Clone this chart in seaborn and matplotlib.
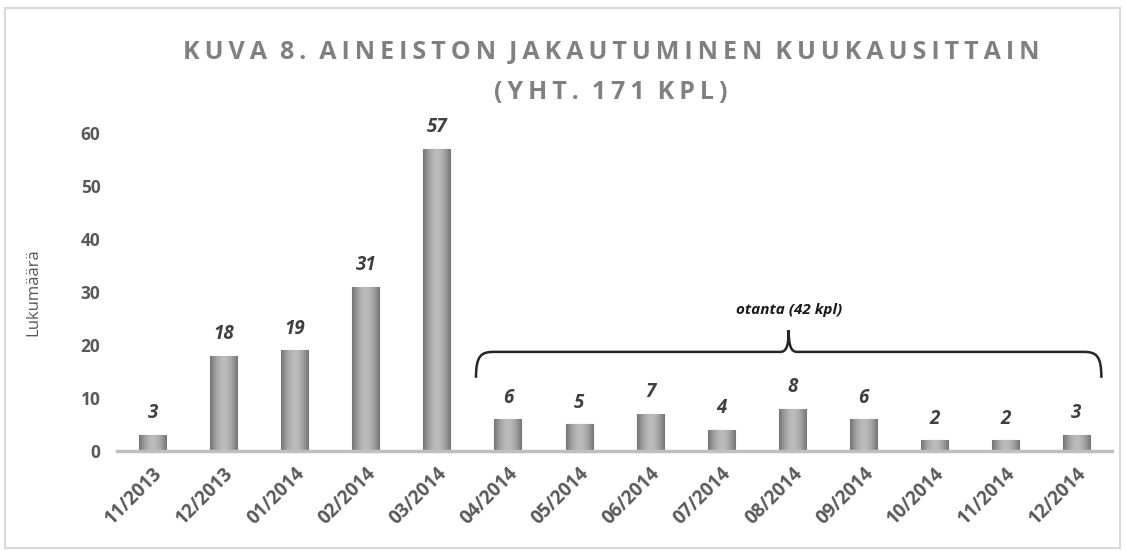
import numpy as np
import pandas as pd
import seaborn as sns
import matplotlib.pyplot as plt
from matplotlib.path import Path
from matplotlib.patches import PathPatch, Rectangle

# Data
months = ['11/2013', '12/2013', '01/2014', '02/2014', '03/2014', '04/2014', '05/2014',
          '06/2014', '07/2014', '08/2014', '09/2014', '10/2014', '11/2014', '12/2014']
counts = [3, 18, 19, 31, 57, 6, 5, 7, 4, 8, 6, 2, 2, 3]
title_lines = ['KUVA 8. AINEISTON JAKAUTUMINEN KUUKAUSITTAIN', '(YHT. 171 KPL)']
sample_label = 'otanta (42 kpl)'

df = pd.DataFrame({'month': months, 'count': counts})

sns.set_theme(style='white')
plt.rcParams['font.family'] = ['Open Sans', 'DejaVu Sans']

fig = plt.figure(figsize=(11.26, 5.51), dpi=100)
ax = fig.add_axes([0.104, 0.1815, 0.8836, 0.5771])

sns.barplot(data=df, x='month', y='count', color='#a6a6a6', width=0.38,
            edgecolor='#8f8f8f', linewidth=0.8, ax=ax)

# horizontal gradient fill on each bar (darker edges, lighter centre)
grad = np.abs(np.linspace(-1, 1, 64)) ** 1.8
grad = np.vstack([grad, grad])
for patch in ax.patches:
    x0, y0 = patch.get_x(), patch.get_y()
    w, h = patch.get_width(), patch.get_height()
    im = ax.imshow(grad, extent=[x0, x0 + w, y0, y0 + h], aspect='auto',
                   cmap='Greys', vmin=-1.6, vmax=2.6, origin='lower', zorder=2)
    im.set_clip_path(patch)
ax.set_xlim(-0.5, len(months) - 0.5)
ax.set_ylim(0, 60)

# value labels
for i, v in enumerate(counts):
    ax.text(i, v + 2.2, str(v), ha='center', va='bottom', fontsize=13.5,
            fontweight='bold', fontstyle='italic', color='#404040', clip_on=False)

# axes styling
sns.despine(ax=ax, left=True)
ax.spines['bottom'].set_color('#bfbfbf')
ax.spines['bottom'].set_linewidth(2.5)
ax.set_yticks([0, 10, 20, 30, 40, 50, 60])
ax.tick_params(axis='both', length=0)
ax.tick_params(axis='y', pad=12)
for lab in ax.get_yticklabels():
    lab.set_fontsize(12.5)
    lab.set_fontweight('bold')
    lab.set_color('#595959')
ax.set_xticks(range(len(months)))
ax.set_xticklabels(months, rotation=45, ha='right', rotation_mode='anchor',
                   fontsize=13.5, fontweight='bold', color='#595959')
ax.tick_params(axis='x', pad=9)
ax.set_xlabel('')
ax.set_ylabel('Lukumäärä', fontsize=12, color='#595959', labelpad=28)

# curly bracket over the sample months
y_tip, y_bar, y_peak = 13.8, 18.7, 22.8
xl, xm, xr = 4.55, 8.95, 13.35
verts = [(xl, y_tip), (xl, 18.0), (xl + 0.07, y_bar), (xl + 0.25, y_bar),
         (xm - 0.12, y_bar),
         (xm - 0.04, y_bar), (xm, 19.6), (xm, y_peak),
         (xm, 19.6), (xm + 0.04, y_bar), (xm + 0.12, y_bar),
         (xr - 0.25, y_bar),
         (xr - 0.07, y_bar), (xr, 18.0), (xr, y_tip)]
codes = [Path.MOVETO, Path.CURVE4, Path.CURVE4, Path.CURVE4,
         Path.LINETO,
         Path.CURVE4, Path.CURVE4, Path.CURVE4,
         Path.CURVE4, Path.CURVE4, Path.CURVE4,
         Path.LINETO,
         Path.CURVE4, Path.CURVE4, Path.CURVE4]
ax.add_patch(PathPatch(Path(verts, codes), fill=False, edgecolor='#262626',
                       linewidth=1.8, clip_on=False))
ax.text(xm, 25.2, sample_label, ha='center', va='bottom', fontsize=11,
        fontweight='bold', fontstyle='italic', color='#1a1a1a')

# title with wide letter spacing
thin = '\u2009'
for k, line in enumerate(title_lines):
    spaced = thin.join(line).replace(thin + ' ' + thin, '  ')
    fig.text(0.5425, 0.905 - k * 0.073, spaced, ha='center', va='center',
             fontsize=18, fontweight='bold', color='#808080')

# outer chart border
fig.patches.append(Rectangle((5 / 1126, 3 / 551), 1115 / 1126, 540 / 551,
                             transform=fig.transFigure, fill=False,
                             edgecolor='#d9d9d9', linewidth=1.5))

plt.savefig('out.png', dpi=100)
